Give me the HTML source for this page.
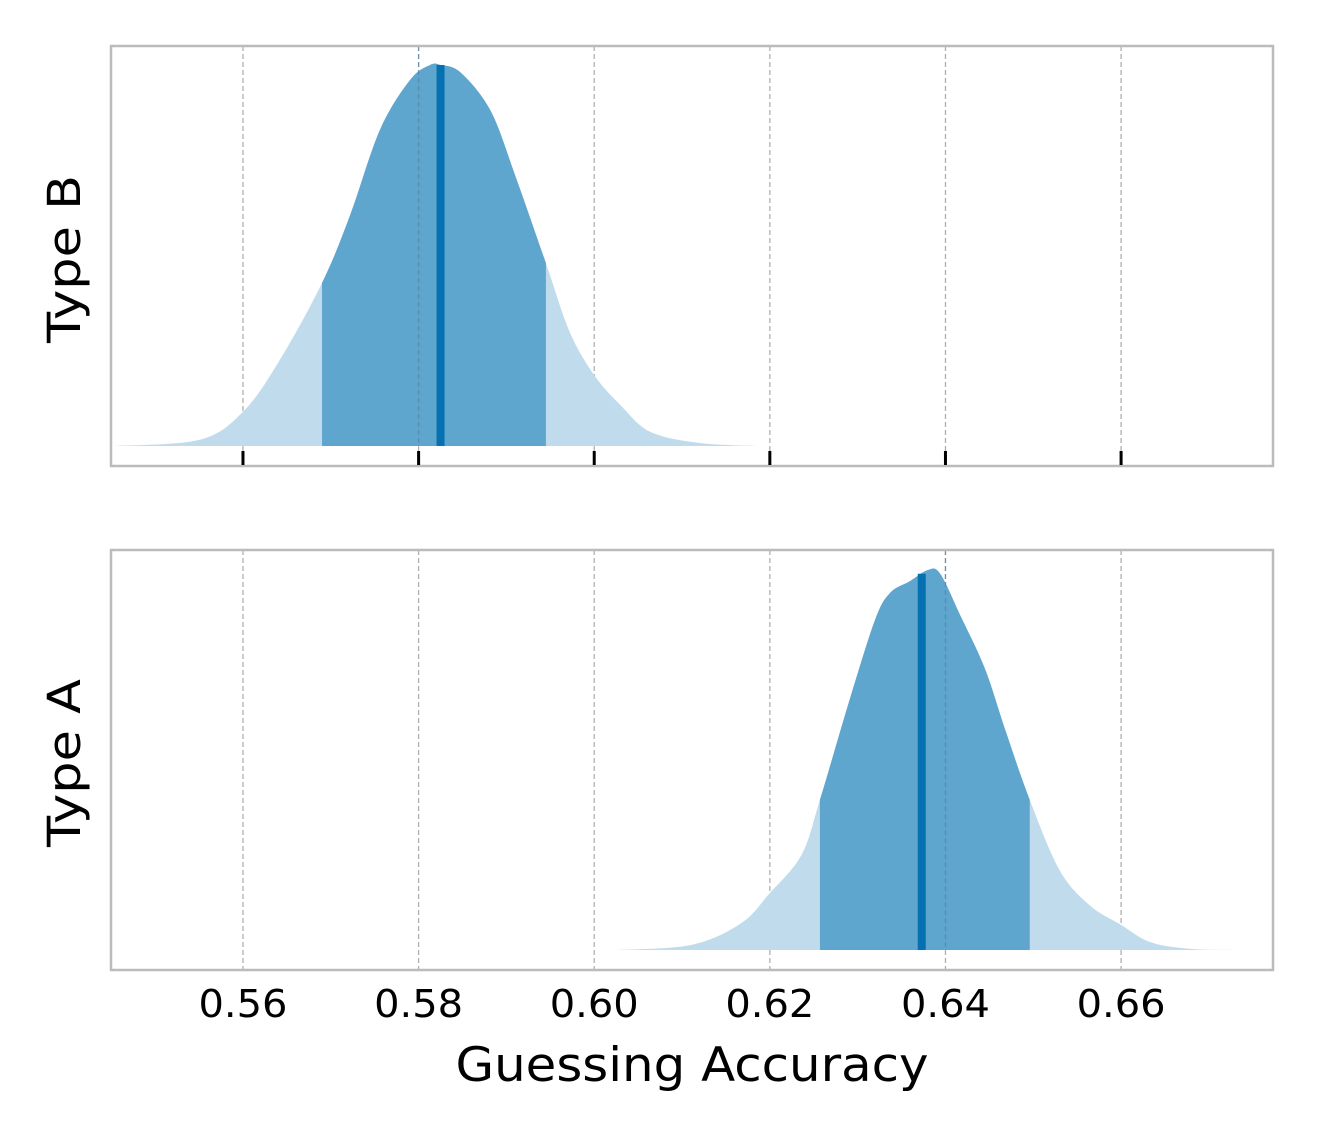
<!DOCTYPE html>
<html><head><meta charset="utf-8"><style>
html,body{margin:0;padding:0;background:#fff;}
svg{display:block;font-family:"DejaVu Sans","Liberation Sans",sans-serif;}
</style></head><body>
<svg id="chart" width="1336" height="1121" viewBox="0 0 1336 1121"></svg>
<script>
const xTicks=[0.56,0.58,0.60,0.62,0.64,0.66];
const tickLabels=["0.56","0.58","0.60","0.62","0.64","0.66"];
const panelNames=["Type B","Type A"];
const bX=[0.5451,0.555,0.56,0.5642,0.569,0.5722,0.5756,0.579,0.5813,0.5825,0.5848,0.5882,0.591,0.5945,0.5972,0.60,0.603,0.6064,0.612,0.6188];
const bY=[0,0.016,0.09,0.226,0.428,0.606,0.83,0.96,1.0,1.0,0.98,0.88,0.71,0.48,0.30,0.186,0.107,0.037,0.008,0];
const bMean=0.5825, bHdi=[0.5690,0.5945];
const aX=[0.6024,0.611,0.6167,0.62,0.6236,0.6257,0.6291,0.632,0.6337,0.6359,0.638,0.6394,0.6417,0.6445,0.6468,0.6496,0.653,0.6564,0.66,0.6633,0.6679,0.6742];
const aY=[0,0.013,0.07,0.15,0.25,0.395,0.66,0.87,0.94,0.97,1.0,0.99,0.88,0.74,0.58,0.395,0.21,0.118,0.066,0.021,0.003,0];
const aMean=0.6373, aHdi=[0.6257,0.6496];

const NS="http://www.w3.org/2000/svg";
const svg=document.getElementById('chart');
const L=111,R=1273;
const xmin=0.54497,xmax=0.6773;
const sx=v=>L+(v-xmin)/(xmax-xmin)*(R-L);
function mk(t,a,p){const e=document.createElementNS(NS,t);for(const k in a)e.setAttribute(k,a[k]);(p||svg).appendChild(e);return e;}
function interp(xs,ys,v){if(v<=xs[0])return ys[0];for(let i=0;i<xs.length-1;i++){if(v<=xs[i+1]){const t=(v-xs[i])/(xs[i+1]-xs[i]);return ys[i]+t*(ys[i+1]-ys[i]);}}return ys[ys.length-1];}
function smoothPath(pts){let d=`M${pts[0][0]},${pts[0][1]}`;for(let i=0;i<pts.length-1;i++){const p0=pts[Math.max(0,i-1)],p1=pts[i],p2=pts[i+1],p3=pts[Math.min(pts.length-1,i+2)];const c1=[p1[0]+(p2[0]-p0[0])/6,p1[1]+(p2[1]-p0[1])/6],c2=[p2[0]-(p3[0]-p1[0])/6,p2[1]-(p3[1]-p1[1])/6];d+=` C${c1[0]},${c1[1]} ${c2[0]},${c2[1]} ${p2[0]},${p2[1]}`;}return d;}

const panels=[{top:46,bot:466,base:446,peak:65,xs:bX,ys:bY,mean:bMean,hdi:bHdi,ticks:true},
              {top:550,bot:970,base:950,peak:570,xs:aX,ys:aY,mean:aMean,hdi:aHdi,ticks:false}];
panels.forEach((p,i)=>{
  const g=mk('g',{});
  
  
  const sy=v=>p.base-v*(p.base-p.peak);
  xTicks.forEach(t=>{const l=mk('line',{x1:sx(t),x2:sx(t),y1:p.top,y2:p.bot,stroke:'#b0b0b0','stroke-width':1.3,'stroke-dasharray':'5,3'},g);
    });
  const pts=p.xs.map((x,j)=>[sx(x),sy(p.ys[j])]);
  const d=smoothPath(pts)+` L${sx(p.xs[p.xs.length-1])},${p.base} L${sx(p.xs[0])},${p.base} Z`;
  const cid='clip'+i;
  const cp=mk('clipPath',{id:cid},g);
  mk('rect',{x:sx(p.hdi[0]),y:p.top,width:sx(p.hdi[1])-sx(p.hdi[0]),height:p.bot-p.top},cp);
  const f1=mk('path',{d:d,fill:'#c0dcec'},g);
  
  const f2=mk('path',{d:d,fill:'#5fa6cf','clip-path':`url(#${cid})`},g);
  
  xTicks.forEach(t=>{if(t>p.hdi[0]&&t<p.hdi[1]){const l=mk('line',{x1:sx(t),x2:sx(t),y1:p.top,y2:p.base,stroke:'#4a7f9f','stroke-width':1.3,'stroke-dasharray':'5,3','opacity':0.6},g);}});
  const m=mk('line',{x1:sx(p.mean),x2:sx(p.mean),y1:p.base,y2:sy(interp(p.xs,p.ys,p.mean)),stroke:'#0571b0','stroke-width':8},g);
  
  const fr=mk('rect',{x:L,y:p.top,width:R-L,height:p.bot-p.top,fill:'none',stroke:'#bbbbbb','stroke-width':2.5},g);
  
  if(p.ticks){xTicks.forEach(t=>{const l=mk('line',{x1:sx(t),x2:sx(t),y1:451,y2:465,stroke:'#000','stroke-width':3},g);});}
  const yl=mk('text',{x:0,y:0,transform:`translate(80,${(p.top+p.bot)/2+3}) rotate(-90)`,'text-anchor':'middle','font-size':45,fill:'#000',textLength:168,lengthAdjust:'spacingAndGlyphs'},g);
  yl.textContent=panelNames[i];
  
});
xTicks.forEach((t,i)=>{const tx=mk('text',{x:sx(t),y:1017,'text-anchor':'middle','font-size':38,fill:'#000',textLength:89,lengthAdjust:'spacingAndGlyphs'});tx.textContent=tickLabels[i];
  });
const xl=mk('text',{x:692,y:1081,'text-anchor':'middle','font-size':47,fill:'#000',textLength:473,lengthAdjust:'spacingAndGlyphs'});
xl.textContent='Guessing Accuracy';

</script>
</body></html>
